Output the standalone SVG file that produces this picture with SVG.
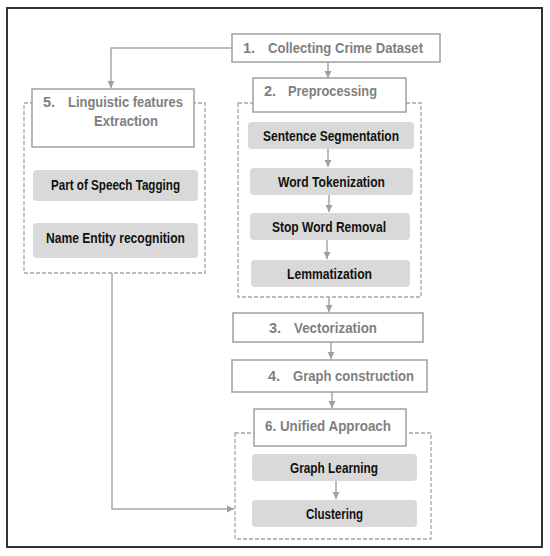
<svg xmlns="http://www.w3.org/2000/svg" width="550" height="556" viewBox="0 0 550 556">
<style>
.frame{fill:#fff;stroke:#333;stroke-width:2}
.dash{fill:none;stroke:#a6a6a6;stroke-width:1.3;stroke-dasharray:4,2}
.wbox{fill:#fff;stroke:#a0a0a0;stroke-width:1.5}
.gbox{fill:#d9d9d9;stroke:none}
.head{font-family:"Liberation Sans",Arial,sans-serif;font-weight:bold;font-size:14.5px;fill:#808080}
.lab{font-family:"Liberation Sans",Arial,sans-serif;font-weight:bold;font-size:14px;fill:#111}
.conn{fill:none;stroke:#a6a6a6;stroke-width:1.5}
</style>
<defs>
<marker id="ah" markerUnits="userSpaceOnUse" markerWidth="10" markerHeight="10" refX="7" refY="4" orient="auto">
<path d="M0,0.5 L7,4 L0,7.5 Z" fill="#a0a0a0"/>
</marker>
</defs>
<rect class="frame" x="7" y="8" width="535" height="539"/>

<g id="dashed-groups">
<rect class="dash" x="24" y="103" width="181" height="170"/>
<rect class="dash" x="238" y="103" width="183" height="194"/>
<rect class="dash" x="235" y="433" width="196" height="106"/>
</g>

<g id="connectors">
<path class="conn" d="M232,48 H111 V88" marker-end="url(#ah)"/>
<path class="conn" d="M328,62 V78" marker-end="url(#ah)"/>
<path class="conn" d="M328,149 V167" marker-end="url(#ah)"/>
<path class="conn" d="M329,195 V212" marker-end="url(#ah)"/>
<path class="conn" d="M327,240 V259" marker-end="url(#ah)"/>
<path class="conn" d="M329,297 V312" marker-end="url(#ah)"/>
<path class="conn" d="M331,342 V359" marker-end="url(#ah)"/>
<path class="conn" d="M332,392 V408" marker-end="url(#ah)"/>
<path class="conn" d="M336,481 V499" marker-end="url(#ah)"/>
<path class="conn" d="M112,273 V509 H234" marker-end="url(#ah)"/>
</g>

<g id="n1">
<rect class="wbox" x="232" y="34" width="208" height="28"/>
<text class="head" x="243" y="53">1.</text>
<text class="head" x="268" y="53" textLength="155" lengthAdjust="spacingAndGlyphs">Collecting Crime Dataset</text>
</g>

<g id="n2">
<rect class="wbox" x="253" y="78" width="153" height="34"/>
<text class="head" x="264" y="96">2.</text>
<text class="head" x="288" y="96" textLength="89" lengthAdjust="spacingAndGlyphs">Preprocessing</text>
</g>

<g id="n5">
<rect class="wbox" x="32" y="89" width="162" height="58"/>
<text class="head" x="43" y="107">5.</text>
<text class="head" x="68" y="107" textLength="115" lengthAdjust="spacingAndGlyphs">Linguistic features</text>
<text class="head" x="94" y="126" textLength="64" lengthAdjust="spacingAndGlyphs">Extraction</text>
</g>

<g id="n5a">
<rect class="gbox" x="33" y="170" width="165" height="31" rx="4"/>
<text class="lab" x="51" y="190" textLength="129" lengthAdjust="spacingAndGlyphs">Part of Speech Tagging</text>
</g>
<g id="n5b">
<rect class="gbox" x="33" y="223" width="165" height="35" rx="4"/>
<text class="lab" x="46" y="243" textLength="139" lengthAdjust="spacingAndGlyphs">Name Entity recognition</text>
</g>

<g id="n2a">
<rect class="gbox" x="248" y="122" width="166" height="27" rx="4"/>
<text class="lab" x="263" y="141" textLength="136" lengthAdjust="spacingAndGlyphs">Sentence Segmentation</text>
</g>
<g id="n2b">
<rect class="gbox" x="250" y="168" width="163" height="27" rx="4"/>
<text class="lab" x="278" y="187" textLength="107" lengthAdjust="spacingAndGlyphs">Word Tokenization</text>
</g>
<g id="n2c">
<rect class="gbox" x="250" y="213" width="160" height="27" rx="4"/>
<text class="lab" x="272" y="232" textLength="114" lengthAdjust="spacingAndGlyphs">Stop Word Removal</text>
</g>
<g id="n2d">
<rect class="gbox" x="251" y="260" width="159" height="27" rx="4"/>
<text class="lab" x="287" y="279" textLength="85" lengthAdjust="spacingAndGlyphs">Lemmatization</text>
</g>

<g id="n3">
<rect class="wbox" x="233" y="313" width="190" height="29"/>
<text class="head" x="269" y="333">3.</text>
<text class="head" x="294" y="333" textLength="83" lengthAdjust="spacingAndGlyphs">Vectorization</text>
</g>

<g id="n4">
<rect class="wbox" x="232" y="360" width="195" height="32"/>
<text class="head" x="268" y="381">4.</text>
<text class="head" x="293" y="381" textLength="121" lengthAdjust="spacingAndGlyphs">Graph construction</text>
</g>

<g id="n6">
<rect class="wbox" x="254" y="409" width="152" height="37"/>
<text class="head" x="265" y="431" textLength="126" lengthAdjust="spacingAndGlyphs">6. Unified Approach</text>
</g>

<g id="n6a">
<rect class="gbox" x="252" y="454" width="165" height="27" rx="4"/>
<text class="lab" x="290" y="473" textLength="88" lengthAdjust="spacingAndGlyphs">Graph Learning</text>
</g>
<g id="n6b">
<rect class="gbox" x="252" y="500" width="165" height="27" rx="4"/>
<text class="lab" x="306" y="519" textLength="57" lengthAdjust="spacingAndGlyphs">Clustering</text>
</g>
</svg>
